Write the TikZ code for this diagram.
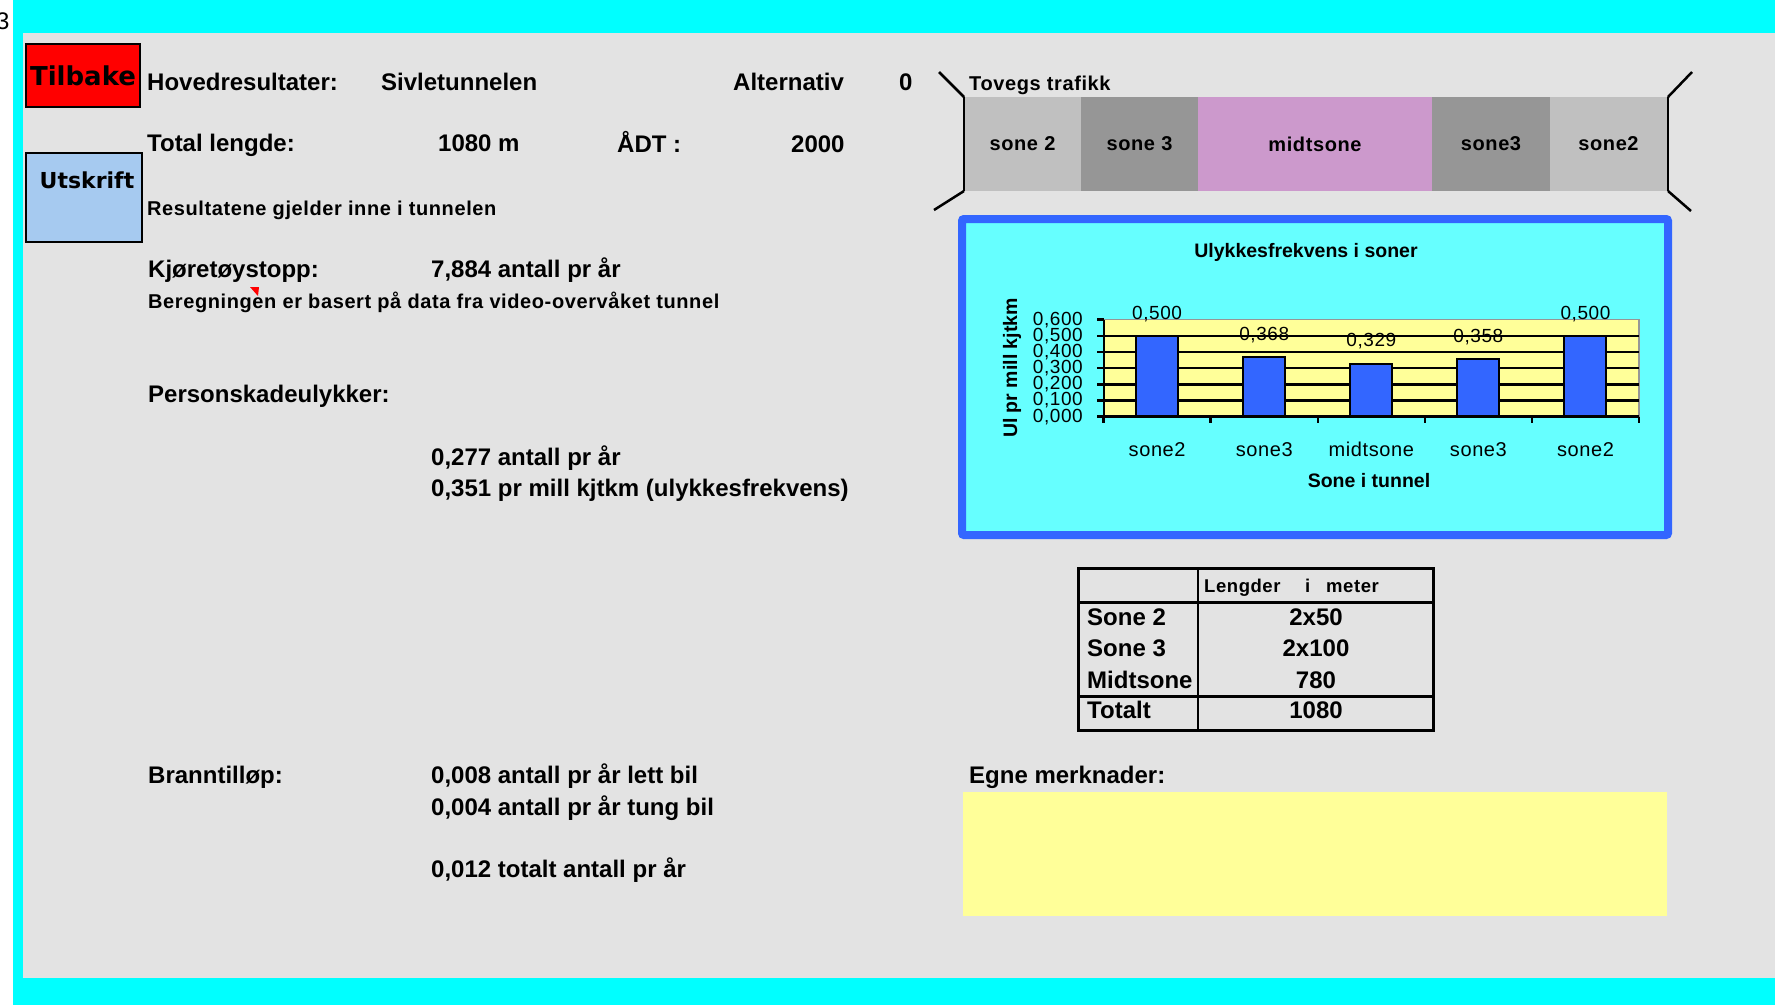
\documentclass[tikz,border=0pt]{standalone}
\usepackage{fontspec}
\setmainfont{Liberation Sans}
\newfontfamily\spacedfont[LetterSpace=3]{Liberation Sans}
\newfontfamily\btnfont{DejaVu Sans}
\newcommand\myBig{\fontsize{24}{28}\selectfont\bfseries}
\newcommand\mySmall{\spacedfont\fontsize{20}{24}\selectfont\bfseries}
\newcommand\myChart{\spacedfont\fontsize{19}{22}\selectfont}
\newcommand\myCat{\spacedfont\fontsize{20}{24}\selectfont}
\newcommand\myTitle{\fontsize{19.5}{23}\selectfont\bfseries}
\newcommand\myHdr{\spacedfont\fontsize{18.5}{22}\selectfont\bfseries}
\definecolor{graybg}{RGB}{227,227,227}
\definecolor{cyanbg}{RGB}{0,255,255}
\definecolor{btnblue}{RGB}{166,202,240}
\definecolor{chartbg}{RGB}{102,255,255}
\definecolor{chartblue}{RGB}{51,102,255}
\definecolor{plotbg}{RGB}{255,255,153}
\definecolor{sonetwo}{RGB}{192,192,192}
\definecolor{sonethree}{RGB}{150,150,150}
\definecolor{midtc}{RGB}{204,153,204}
\definecolor{plotedge}{RGB}{150,150,150}
\begin{document}
\begin{tikzpicture}[x=1pt,y=-1pt,
  big/.style={font=\myBig, anchor=base west, inner sep=0pt},
  small/.style={font=\mySmall, anchor=base west, inner sep=0pt},
  zonelab/.style={font=\mySmall, inner sep=0pt},
  ticklab/.style={font=\myChart, anchor=east, inner sep=0pt},
  vallab/.style={font=\myChart, inner sep=0pt},
  catlab/.style={font=\myCat, anchor=base, inner sep=0pt},
  hdrlab/.style={font=\myHdr, anchor=base west, inner sep=0pt},
  gridln/.style={line width=2.5pt, black},
  axisln/.style={line width=2.5pt, black},
  barstyle/.style={fill=chartblue, draw=black, line width=2pt},
  tunnelln/.style={line width=2.5pt, black},
  tabln/.style={line width=2.5pt, black},
]
\useasboundingbox (0,0) rectangle (1775,1005);
% backgrounds
\fill[white] (0,0) rectangle (1775,1005);
\fill[cyanbg] (13,0) rectangle (1775,1005);
\fill[graybg] (23,33) rectangle (1775,978);
\node[font=\fontsize{24}{28}\selectfont, anchor=base west, inner sep=0pt] (three) at (-4,29) {3};

% buttons
\draw[line width=2.5pt, fill=red] (26,44) rectangle (140,107);
\node[font=\btnfont\fontsize{26}{30}\selectfont\bfseries, inner sep=0pt] (tilbake) at (83,75.5) {Tilbake};
\draw[line width=2.5pt, fill=btnblue] (26,153) rectangle (142,242);
\node[font=\btnfont\fontsize{22}{26}\selectfont\bfseries, anchor=base, inner sep=0pt] (utskrift) at (87,188) {Utskrift};

% left texts
\node[big] (hoved) at (147,90) {Hovedresultater:};
\node[big] (sivle) at (381,90) {Sivletunnelen};
\node[big] (alt) at (733,90) {Alternativ};
\node[big] (altv) at (899,90) {0};
\node[big] (total) at (147,151) {Total lengde:};
\node[big] (lengde) at (438,151) {1080 m};
\node[big] (adt) at (617,152) {ÅDT :};
\node[big] (adtv) at (791,152) {2000};
\node[small] (result) at (147,215) {Resultatene gjelder inne i tunnelen};
\node[big] (kjore) at (148,277) {Kjøretøystopp:};
\node[big] (kjorev) at (431,277) {7,884 antall pr år};
\node[small] (bereg) at (148,308) {Beregningen er basert på data fra video-overvåket tunnel};
\fill[red] (250,287) -- (259,287) -- (258,296) -- cycle;
\node[big] (person) at (148,402) {Personskadeulykker:};
\node[big] (pone) at (431,465) {0,277 antall pr år};
\node[big] (ptwo) at (431,496) {0,351 pr mill kjtkm (ulykkesfrekvens)};
\node[big] (brann) at (148,783) {Branntilløp:};
\node[big] (bone) at (431,783) {0,008 antall pr år lett bil};
\node[big] (btwo) at (431,815) {0,004 antall pr år tung bil};
\node[big] (bthree) at (431,877) {0,012 totalt antall pr år};

% tunnel band
\node[small] (tovegs) at (969,90) {Tovegs trafikk};
\fill[sonetwo] (964,97) rectangle (1081,191);
\fill[sonethree] (1081,97) rectangle (1198,191);
\fill[midtc] (1198,97) rectangle (1432,191);
\fill[sonethree] (1432,97) rectangle (1550,191);
\fill[sonetwo] (1550,97) rectangle (1667,191);
\node[zonelab] (zone) at (1022.5,144) {sone 2};
\node[zonelab] (ztwo) at (1139.5,144) {sone 3};
\node[zonelab] (zthree) at (1315,144) {midtsone};
\node[zonelab] (zfour) at (1491,144) {sone3};
\node[zonelab] (zfive) at (1608.5,144) {sone2};
\coordinate (tl) at (964,97);
\coordinate (bl) at (964,191);
\coordinate (tr) at (1668,97);
\coordinate (br) at (1668,191);
\draw[tunnelln] (tl) -- (bl);
\draw[tunnelln] (tr) -- (br);
\draw[tunnelln] (tl) -- ++(-25,-25);
\draw[tunnelln] (bl) -- ++(-30,19);
\draw[tunnelln] (tr) -- ++(24,-25);
\draw[tunnelln] (br) -- ++(23,20);

% chart
\draw[draw=chartblue, line width=8pt, fill=chartbg, rounded corners=2pt] (962,219) rectangle (1668,535);
\node[font=\myTitle, anchor=base, inner sep=0pt] (ctitle) at (1306,257) {Ulykkesfrekvens i soner};
\fill[plotbg] (1104,319.5) rectangle (1639,416.7);
\draw[plotedge, line width=1.5pt] (1104,319.5) -- (1639,319.5) -- (1639,416.7);
\foreach \v in {1,...,5} {
  \draw[gridln] (1104,{416.7-16.17*\v}) -- (1639,{416.7-16.17*\v});
}
\foreach \i/\v/\d in {1/0.500/500, 2/0.368/368, 3/0.329/329, 4/0.358/358, 5/0.500/500} {
  \pgfmathsetmacro\cx{1103.6+107.08*(\i-0.5)}
  \pgfmathsetmacro\ty{416.7-161.7*\v}
  \draw[barstyle] ({\cx-21},416.7) rectangle ({\cx+21},\ty);
  \node[vallab] (val\i) at (\cx,{\ty-22}) {0,\d};
}
\draw[axisln] (1104,319.5) -- (1104,416.7) -- (1639,416.7);
\foreach \v in {0,...,6} {
  \draw[axisln] (1097,{416.7-16.17*\v}) -- (1104,{416.7-16.17*\v});
  \node[ticklab] (tick\v) at (1083,{416.7-16.17*\v}) {0,\v00};
}
\foreach \i in {0,...,5} {
  \draw[axisln] ({1103.6+107.08*\i},416.7) -- ++(0,6);
}
\foreach \i/\t in {1/sone2,2/sone3,3/midtsone,4/sone3,5/sone2} {
  \node[catlab] (cat\i) at ({1103.6+107.08*(\i-0.5)},456) {\t};
}
\node[font=\myTitle, rotate=90, inner sep=0pt] (ytitle) at (1012,368) {Ul pr mill kjtkm};
\node[font=\myTitle, anchor=base, inner sep=0pt] (xtitle) at (1369,487) {Sone i tunnel};

% table
\draw[line width=3pt] (1078,568) rectangle (1433,730);
\draw[tabln] (1198,568) -- (1198,730);
\draw[tabln] (1078,602.7) -- (1433,602.7);
\draw[tabln] (1078,696.7) -- (1433,696.7);
\node[hdrlab] (hdra) at (1204,592) {Lengder};
\node[hdrlab] (hdrb) at (1305,592) {i};
\node[hdrlab] (hdrc) at (1326,592) {meter};
\node[big] (rone) at (1087,625) {Sone 2};
\node[big] (rtwo) at (1087,656.7) {Sone 3};
\node[big] (rthree) at (1087,688.3) {Midtsone};
\node[big] (rfour) at (1087,718.3) {Totalt};
\node[big, anchor=base] (vone) at (1316,625) {2x50};
\node[big, anchor=base] (vtwo) at (1316,656.7) {2x100};
\node[big, anchor=base] (vthree) at (1316,688.3) {780};
\node[big, anchor=base] (vfour) at (1316,718.3) {1080};

% notes
\node[big] (egne) at (969,783) {Egne merknader:};
\fill[plotbg] (963,792) rectangle (1667,916);
\end{tikzpicture}
\end{document}
